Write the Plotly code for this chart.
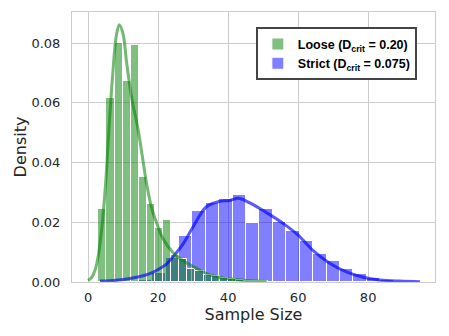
import numpy as np
import plotly.graph_objects as go

# histogram densities
loose_bin_start = 0.63
loose_bin_width = 2.31
loose_density = [0.0, 0.0243, 0.0617, 0.0800, 0.0674, 0.0794, 0.0350, 0.0260, 0.0180,
                 0.0207, 0.0092, 0.0078, 0.0045, 0.0036, 0.0025, 0.0019, 0.0013,
                 0.0009, 0.0006, 0.0004, 0.0002, 0.0002]

strict_bin_start = 3.0
strict_bin_width = 3.83
strict_density = [0.0, 0.0001, 0.0003, 0.0008, 0.0030, 0.0080, 0.0153, 0.0238,
                  0.0263, 0.0277, 0.0291, 0.0198, 0.0244, 0.0201, 0.0171, 0.0137,
                  0.0093, 0.0072, 0.0045, 0.0026, 0.0012, 0.0008, 0.0004, 0.0002]

# kde curves
loose_kde_x = [0, 1, 2, 3, 4, 5, 6, 7, 8, 8.9, 10, 11, 12.4, 14.3, 15.5, 16.7,
               18.1, 19.5, 21.4, 24.3, 27, 30, 34.8, 41.4, 51]
loose_kde_y = [0.0005, 0.0015, 0.004, 0.0095, 0.019, 0.033, 0.052, 0.069, 0.082,
               0.0861, 0.083, 0.0735, 0.062, 0.051, 0.042, 0.033, 0.025, 0.020,
               0.0145, 0.0098, 0.0072, 0.0052, 0.0024, 0.0009, 0.0002]

strict_kde_x = [3.4, 8, 12, 16, 18, 20, 22.4, 24.3, 27, 30, 33.8, 37.6, 40.5, 42.9,
                46.2, 51, 55.5, 60, 64.3, 69, 73.8, 78.6, 83.3, 89, 94.8]
strict_kde_y = [0.0003, 0.0006, 0.0012, 0.0022, 0.003, 0.0042, 0.006, 0.0085,
                0.0125, 0.0185, 0.0252, 0.027, 0.0273, 0.028, 0.0265, 0.0232,
                0.0198, 0.0157, 0.0105, 0.0063, 0.0034, 0.0016, 0.0007, 0.0003,
                0.0001]

loose_name = "<b>Loose (D<sub>crit</sub> = 0.20)</b>"
strict_name = "<b>Strict (D<sub>crit</sub> = 0.075)</b>"

loose_x = loose_bin_start + loose_bin_width * (np.arange(len(loose_density)) + 0.5)
strict_x = strict_bin_start + strict_bin_width * (np.arange(len(strict_density)) + 0.5)

fig = go.Figure()
fig.add_trace(go.Bar(
    x=strict_x, y=strict_density, width=strict_bin_width,
    marker=dict(color="rgba(0,0,255,0.5)", line=dict(color="white", width=1)),
    name=strict_name, legendrank=2,
))
fig.add_trace(go.Bar(
    x=loose_x, y=loose_density, width=loose_bin_width,
    marker=dict(color="rgba(0,128,0,0.5)", line=dict(color="white", width=1)),
    name=loose_name, legendrank=1,
))
fig.add_trace(go.Scatter(
    x=strict_kde_x, y=strict_kde_y, mode="lines", line_shape="spline",
    line=dict(color="rgba(0,0,255,0.65)", width=3), showlegend=False,
))
fig.add_trace(go.Scatter(
    x=loose_kde_x, y=loose_kde_y, mode="lines", line_shape="spline",
    line=dict(color="rgba(0,128,0,0.55)", width=3), showlegend=False,
))

fig.update_layout(
    width=449, height=336,
    margin=dict(l=72, r=14, t=12, b=54),
    barmode="overlay", bargap=0,
    plot_bgcolor="white", paper_bgcolor="white",
    font=dict(family="DejaVu Sans", size=13, color="#262626"),
    legend=dict(
        x=0.95, y=0.943, xanchor="right", yanchor="top",
        bgcolor="white", bordercolor="#444444", borderwidth=2,
        font=dict(family="Liberation Sans", size=12.5, color="black"),
        tracegroupgap=2,
    ),
)
fig.update_xaxes(
    range=[-4.6, 99.1], tickvals=[0, 20, 40, 60, 80],
    showline=True, linecolor="#cccccc", linewidth=1, mirror=True,
    showgrid=True, gridcolor="#cccccc", zeroline=False,
    ticklabelstandoff=3,
    title=dict(text="Sample Size", standoff=2),
)
fig.update_yaxes(
    range=[0, 0.0904], tickvals=[0, 0.02, 0.04, 0.06, 0.08], tickformat=".2f",
    showline=True, linecolor="#cccccc", linewidth=1, mirror=True,
    showgrid=True, gridcolor="#cccccc", zeroline=False,
    ticklabelstandoff=8,
    title=dict(text="Density", standoff=0),
)

fig.write_html("out.html", config={"displayModeBar": False},
               post_script="document.body.style.margin='0';")
